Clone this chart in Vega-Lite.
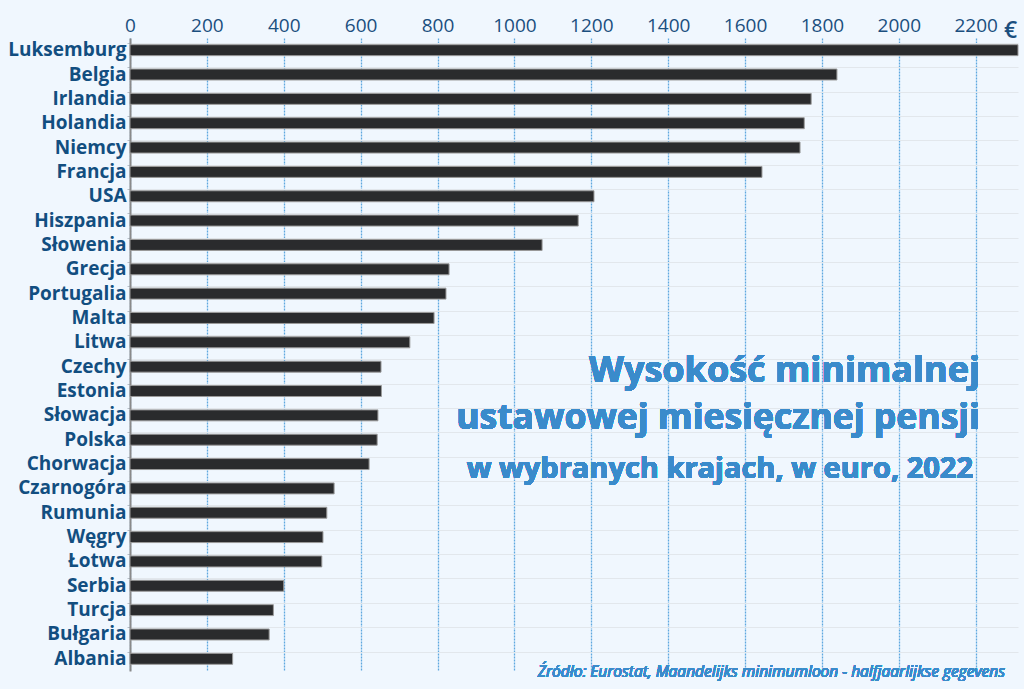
{
  "$schema": "https://vega.github.io/schema/vega-lite/v6.json",
  "autosize": {"type": "none"},
  "width": 888,
  "height": 633,
  "padding": {"left": 130, "top": 38, "right": 6, "bottom": 18},
  "background": "#f0f7fe",
  "config": {"view": {"stroke": null}, "font": "Open Sans"},
  "data": {"values": [
    {"country": "Luksemburg", "value": 2310},
    {"country": "Belgia", "value": 1839},
    {"country": "Irlandia", "value": 1772},
    {"country": "Holandia", "value": 1754},
    {"country": "Niemcy", "value": 1743},
    {"country": "Francja", "value": 1644},
    {"country": "USA", "value": 1207},
    {"country": "Hiszpania", "value": 1166},
    {"country": "Słowenia", "value": 1072},
    {"country": "Grecja", "value": 830},
    {"country": "Portugalia", "value": 822},
    {"country": "Malta", "value": 791},
    {"country": "Litwa", "value": 728},
    {"country": "Czechy", "value": 653},
    {"country": "Estonia", "value": 654},
    {"country": "Słowacja", "value": 645},
    {"country": "Polska", "value": 643},
    {"country": "Chorwacja", "value": 622},
    {"country": "Czarnogóra", "value": 531},
    {"country": "Rumunia", "value": 512},
    {"country": "Węgry", "value": 502},
    {"country": "Łotwa", "value": 499},
    {"country": "Serbia", "value": 400},
    {"country": "Turcja", "value": 373},
    {"country": "Bułgaria", "value": 362},
    {"country": "Albania", "value": 267}
  ]},
  "layer": [
    {
      "mark": {"type": "bar", "fill": "#2a2b2d", "stroke": "#9a9a9a", "strokeWidth": 1},
      "encoding": {
        "y": {
          "field": "country", "type": "nominal", "sort": null,
          "scale": {"paddingInner": 0.55, "paddingOuter": 0.275},
          "axis": {
            "title": null,
            "labelFontSize": 19, "labelFontWeight": "bold", "labelColor": "#124e80",
            "labelPadding": 1, "tickSize": 3, "tickColor": "#b5bec8",
            "bandPosition": -0.12,
            "domainColor": "#8a8a8a", "domainWidth": 2,
            "grid": true, "gridColor": "#e2e7ec", "gridWidth": 1
          }
        },
        "x": {
          "field": "value", "type": "quantitative",
          "scale": {"domain": [0, 2310], "nice": false, "clamp": true},
          "axis": {
            "orient": "top",
            "values": [0,100,200,300,400,500,600,700,800,900,1000,1100,1200,1300,1400,1500,1600,1700,1800,1900,2000,2100,2200,2300],
            "labelExpr": "datum.value % 200 === 0 ? datum.value : ''",
            "labelFontSize": 19, "labelColor": "#1b4f7e", "labelPadding": 3,
            "labelFlush": false,
            "ticks": false, "domain": false,
            "grid": true,
            "gridColor": {"condition": {"test": "datum.value % 200 === 0", "value": "#5ea8df"}, "value": "#c9ced3"},
            "gridDash": {"condition": {"test": "datum.value % 200 === 0", "value": [2, 1]}, "value": []},
            "gridWidth": {"condition": {"test": "datum.value % 200 === 0", "value": 1.3}, "value": 1.2},
            "title": "€", "titleFontSize": 23, "titleFontWeight": 600, "titleColor": "#1b4f7e",
            "titleX": 880, "titleY": -1, "titleAlign": "center", "titleBaseline": "alphabetic", "titleAngle": 0
          }
        }
      }
    },
    {
      "mark": {"type": "text", "align": "right", "baseline": "alphabetic", "dy": 15, "fontSize": 36, "fontWeight": "bold", "fill": "#3a8bcb"},
      "encoding": {"x": {"datum": 2211}, "y": {"datum": "Czechy"}, "text": {"value": "Wysokość minimalnej"}}
    },
    {
      "mark": {"type": "text", "align": "right", "baseline": "alphabetic", "dy": 14, "fontSize": 35.5, "fontWeight": "bold", "fill": "#3a8bcb"},
      "encoding": {"x": {"datum": 2211}, "y": {"datum": "Słowacja"}, "text": {"value": "ustawowej miesięcznej pensji"}}
    },
    {
      "mark": {"type": "text", "align": "right", "baseline": "alphabetic", "dy": 14, "fontSize": 29, "fontWeight": "bold", "fill": "#3a8bcb"},
      "encoding": {"x": {"datum": 2193}, "y": {"datum": "Chorwacja"}, "text": {"value": "w wybranych krajach, w euro, 2022"}}
    },
    {
      "mark": {"type": "text", "align": "right", "baseline": "middle", "fontSize": 15.5, "fontStyle": "italic", "fontWeight": "normal", "fill": "#3a8bcb", "dy": 13},
      "encoding": {"x": {"datum": 2276}, "y": {"datum": "Albania"}, "text": {"value": "Źródło: Eurostat, Maandelijks minimumloon - halfjaarlijkse gegevens"}}
    }
  ]
}
